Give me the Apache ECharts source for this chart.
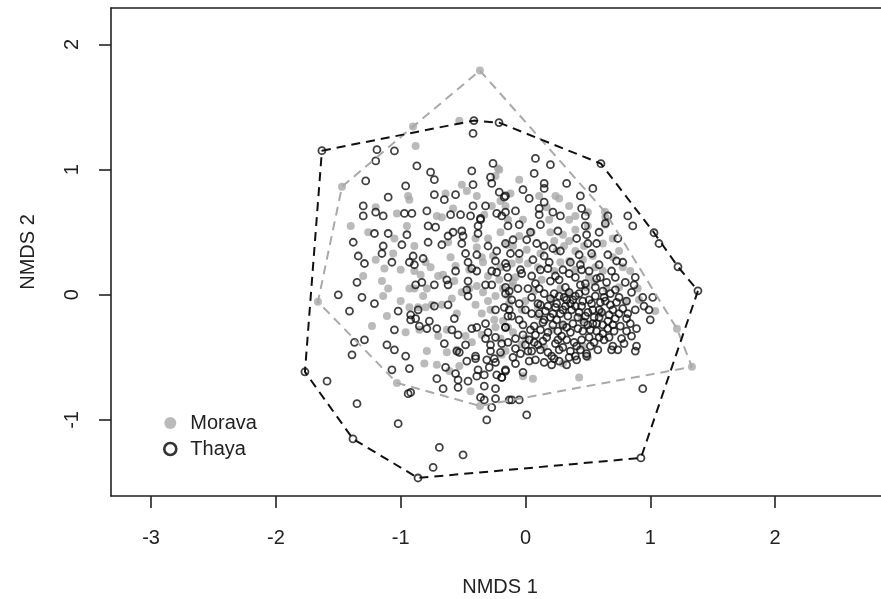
<!DOCTYPE html>
<html>
<head>
<meta charset="utf-8">
<script src="https://cdn.jsdelivr.net/npm/echarts@6/dist/echarts.min.js"></script>
<style>
  html, body { margin: 0; padding: 0; background: #fff; }
  #nmds { width: 881px; height: 599px; }
</style>
</head>
<body>
<div id="nmds"></div>
<script>
// tick positions
var xTicks = [-3, -2, -1, 0, 1, 2];
var yTicks = [-1, 0, 1, 2];

// convex hull vertices (NMDS1, NMDS2)
var moravaHull = [
  [-0.365, 1.792], [0.637, 0.664], [1.214, -0.272], [1.334, -0.576],
  [-0.365, -0.888], [-1.030, -0.704], [-1.663, -0.056], [-1.470, 0.864],
  [-0.901, 1.344]
];
var thayaHull = [
  [-1.631, 1.152], [-0.413, 1.392], [-0.212, 1.376], [0.605, 1.048],
  [1.030, 0.496], [1.222, 0.224], [1.382, 0.032], [0.925, -1.304],
  [-0.861, -1.464], [-1.382, -1.152], [-1.767, -0.616]
];

// site scores, Morava
var moravaPts = [
  [-0.53, 1.39], [-0.88, 1.19], [-0.22, 1.01], [-0.24, 0.95], [-0.51, 0.88], [-0.47, 0.83],
  [-0.39, 0.79], [-0.64, 0.81], [-0.94, 0.79], [-0.93, 0.76], [-0.58, 0.69], [-0.33, 0.64],
  [-0.27, 0.71], [-0.16, 0.71], [-1.03, 0.65], [-0.71, 0.63], [-0.20, 0.75],
  [-0.05, 0.92], [0.24, 0.79], [0.27, 0.77], [0.35, 0.71], [0.11, 0.79], [-0.12, 0.81],
  [-0.21, 1.00], [0.17, 0.70], [0.50, 0.66], [0.40, 0.63],
  [-1.26, 0.50], [-0.89, 0.39], [-1.06, 0.33], [-1.20, 0.28], [-1.13, 0.21], [-0.89, 0.19],
  [-0.80, 0.26], [-0.76, 0.22], [-0.84, 0.16], [-1.15, 0.11], [-1.10, 0.05], [-0.93, 0.05],
  [-0.89, 0.05], [-0.79, 0.05], [-0.66, 0.16], [-0.56, 0.23], [-0.57, 0.11], [-0.34, 0.26],
  [-0.26, 0.31], [-0.39, 0.38], [-0.67, 0.62], [-0.82, -0.01], [-0.75, -0.08], [-0.67, -0.08],
  [-0.59, -0.03], [-0.51, 0.02], [-0.40, -0.08], [-0.34, 0.02], [-0.24, -0.01], [-0.39, 0.07],
  [-0.21, 0.12], [-0.93, -0.10], [-0.86, -0.10], [-0.80, -0.10], [-1.11, -0.17], [-1.23, -0.25],
  [-0.96, -0.30], [-0.85, -0.28], [-0.70, -0.33], [-0.63, -0.28], [-0.48, -0.33], [-0.43, -0.38],
  [-0.35, -0.32], [-0.24, -0.26], [-0.18, -0.21], [-0.28, -0.12], [-0.13, -0.07], [-0.79, -0.45],
  [-0.55, -0.44], [-1.14, -0.01],
  [-0.14, 0.60], [-0.02, 0.60], [0.19, 0.60], [0.35, 0.60], [0.40, 0.52], [0.35, 0.43],
  [0.23, 0.43], [0.31, 0.39], [0.47, 0.39], [0.62, 0.41], [0.64, 0.56], [0.70, 0.45],
  [0.64, 0.62], [0.54, 0.31], [0.46, 0.28], [0.35, 0.27], [0.28, 0.26], [0.12, 0.33],
  [0.01, 0.36], [-0.10, 0.39], [-0.11, 0.25], [0.02, 0.25], [0.10, 0.22], [0.23, 0.19],
  [0.40, 0.20], [0.56, 0.22], [0.62, 0.19], [0.78, 0.22], [0.84, 0.19], [0.75, 0.06],
  [0.65, 0.05], [0.49, 0.06], [0.34, 0.01], [0.07, 0.03], [-0.08, 0.14], [-0.11, 0.07],
  [-0.14, -0.01], [-0.03, -0.12], [0.10, -0.17], [0.21, -0.04], [0.51, 0.14], [0.28, 0.05],
  [-0.14, -0.26], [-0.03, -0.40], [-0.16, -0.45], [1.04, -0.13], [0.91, -0.04], [0.46, -0.41],
  [0.21, -0.28],
  [-0.81, -0.55], [-0.71, -0.56], [-0.61, -0.61], [-0.53, -0.57], [-0.44, -0.77], [-0.19, -0.48],
  [-0.63, -0.46], [-0.02, -0.65], [0.06, -0.67], [0.43, -0.66],
  [-0.30, 0.45], [-0.20, 0.50], [-0.05, 0.47], [0.20, 0.50], [0.50, 0.55], [-0.45, 0.20],
  [-0.30, 0.15], [-0.20, 0.22], [-0.10, 0.10], [0.00, -0.05], [0.10, -0.10], [-0.25, -0.20],
  [-0.35, -0.15], [-0.10, -0.30], [0.00, -0.35], [0.30, -0.25], [0.45, -0.20], [0.55, 0.10],
  [0.70, 0.30], [0.75, 0.35], [0.50, -0.50], [0.30, -0.55], [-0.60, 0.30], [-0.70, 0.15],
  [-1.00, 0.20], [-1.00, -0.05], [-0.95, 0.55], [-1.20, 0.70], [-1.40, 0.55], [0.90, 0.05],
  [-0.40, 0.45], [-0.15, 0.40], [0.05, 0.50], [0.30, 0.48], [-0.45, 0.05], [-0.30, -0.05],
  [-0.18, 0.05], [0.13, 0.12], [0.25, 0.35], [0.40, 0.35], [-0.05, 0.28], [-0.35, 0.30],
  [-0.55, -0.15], [-0.20, -0.35], [0.15, -0.42], [0.60, -0.15], [0.80, -0.05], [-0.62, 0.42],
  [-1.05, 0.45], [-1.30, 0.15]
];

// site scores, Thaya
var thayaPts = [
  [-1.19, 1.16], [-1.05, 1.15], [-1.20, 1.07], [-0.42, 1.29], [-0.87, 1.03], [-0.76, 0.98],
  [-0.73, 0.92], [-0.43, 0.99], [-0.26, 1.05], [-0.28, 0.94], [-0.27, 0.89], [-0.42, 0.88],
  [-1.28, 0.91], [-0.96, 0.87], [-1.10, 0.78], [-0.73, 0.80], [-0.65, 0.76], [-0.56, 0.80],
  [-0.42, 0.71], [-0.32, 0.71], [-0.21, 0.82], [-0.17, 0.78], [-1.30, 0.71], [-1.30, 0.63],
  [-1.20, 0.66], [-1.14, 0.63], [-0.97, 0.65], [-0.91, 0.65], [-0.79, 0.67], [-0.60, 0.64],
  [-0.52, 0.64], [-0.44, 0.63], [-0.36, 0.61], [-0.23, 0.65], [-0.19, 0.63],
  [0.08, 1.09], [0.20, 1.04], [0.07, 0.97], [0.15, 0.89], [0.15, 0.85], [0.33, 0.89],
  [-0.02, 0.84], [0.03, 0.77], [-0.16, 0.79], [0.15, 0.74], [0.44, 0.79], [0.54, 0.85],
  [-0.08, 0.67], [0.11, 0.69], [0.11, 0.64], [0.22, 0.66], [0.28, 0.63], [0.45, 0.69],
  [0.48, 0.63], [0.66, 0.63], [0.82, 0.63], [-0.16, 0.66],
  [-1.21, 0.49], [-1.10, 0.49], [-0.95, 0.48], [-1.38, 0.42], [-1.14, 0.39], [-1.15, 0.33],
  [-1.34, 0.31], [-1.29, 0.25], [-1.07, 0.26], [-0.99, 0.40], [-0.78, 0.42], [-0.72, 0.54],
  [-0.67, 0.40], [-0.62, 0.47], [-0.58, 0.50], [-0.51, 0.51], [-0.50, 0.47], [-0.51, 0.41],
  [-0.48, 0.33], [-0.38, 0.49], [-0.38, 0.55], [-0.36, 0.60], [-0.30, 0.39], [-0.23, 0.35],
  [-0.39, 0.32], [-0.90, 0.31], [-0.82, 0.29], [-0.93, 0.26], [-0.89, 0.24], [-0.46, 0.26],
  [-0.43, 0.21], [-0.39, 0.19], [-0.27, 0.19], [-0.23, 0.18], [-0.24, 0.27], [-0.15, 0.22],
  [-0.56, 0.19], [-0.83, 0.10], [-0.88, 0.08], [-1.35, 0.10], [-1.50, 0.00], [-1.31, -0.02],
  [-1.21, -0.07], [-1.41, -0.13], [-1.02, -0.13], [-0.73, 0.08], [-0.62, 0.08], [-0.63, 0.12],
  [-0.46, 0.11], [-0.47, 0.04], [-0.46, -0.01], [-0.32, 0.08], [-0.27, 0.08], [-0.16, 0.06],
  [-0.13, 0.03], [-0.62, -0.08], [-0.73, -0.09], [-0.86, -0.12], [-0.92, -0.16], [-0.92, -0.20],
  [-0.88, -0.19], [-0.77, -0.21], [-0.85, -0.25], [-0.79, -0.27], [-0.71, -0.27], [-0.57, -0.19],
  [-0.59, -0.28], [-0.54, -0.32], [-0.43, -0.27], [-0.39, -0.26], [-0.32, -0.23], [-0.30, -0.30],
  [-1.05, -0.28], [-1.29, -0.36], [-1.37, -0.38], [-1.11, -0.40], [-1.05, -0.44], [-1.39, -0.48],
  [-0.96, -0.49], [-0.65, -0.39], [-0.55, -0.45], [-0.48, -0.40], [-0.40, -0.49], [-0.32, -0.35],
  [-0.28, -0.40], [-0.24, -0.34], [-0.19, -0.39], [-0.16, -0.26], [-0.14, -0.17], [-0.17, -0.10],
  [-0.24, -0.12], [-0.78, 0.55],
  [0.48, 0.55], [0.26, 0.51], [0.12, 0.56], [0.04, 0.50], [-0.05, 0.56], [-0.14, 0.55],
  [-0.10, 0.44], [0.01, 0.44], [0.09, 0.41], [0.15, 0.39], [0.22, 0.37], [0.28, 0.35],
  [0.41, 0.45], [0.49, 0.48], [0.50, 0.41], [0.57, 0.41], [0.59, 0.50], [0.64, 0.57],
  [0.74, 0.45], [0.86, 0.55], [1.07, 0.41], [0.73, 0.27], [0.78, 0.26], [0.69, 0.19],
  [0.60, 0.14], [0.88, 0.14], [0.87, 0.08], [0.80, 0.10], [0.72, 0.04], [0.85, 0.02],
  [0.94, -0.02], [1.02, -0.02], [0.81, -0.05], [0.88, -0.12], [0.95, -0.09], [0.99, -0.12],
  [1.00, -0.20], [0.81, -0.19], [0.89, -0.27], [0.81, -0.29], [0.77, -0.35], [0.70, -0.41],
  [0.89, -0.41], [0.51, -0.34], [0.59, -0.34], [0.49, -0.47], [0.41, -0.41], [0.33, -0.36],
  [0.24, -0.39], [0.17, -0.34], [0.07, -0.38], [-0.02, -0.32], [0.00, -0.40], [-0.08, -0.43],
  [-0.14, -0.38], [-0.16, -0.26], [-0.13, -0.12], [-0.16, 0.01], [-0.14, 0.14], [-0.16, 0.25],
  [-0.12, 0.33], [-0.16, 0.41], [-0.05, 0.33], [-0.04, 0.20], [-0.06, 0.05], [-0.05, -0.07],
  [-0.05, -0.20], [0.05, -0.15], [0.05, -0.02], [0.05, 0.15], [0.06, 0.28], [0.15, 0.31],
  [0.18, 0.21], [0.20, 0.11], [0.15, 0.01], [0.18, -0.09], [0.15, -0.20], [0.25, -0.20],
  [0.30, -0.12], [0.27, -0.01], [0.32, 0.06], [0.35, 0.17], [0.36, 0.26], [0.43, 0.32],
  [0.45, 0.20], [0.48, 0.09], [0.43, 0.01], [0.40, -0.09], [0.48, -0.17], [0.38, -0.23],
  [0.59, -0.12], [0.56, -0.01], [0.64, -0.05], [0.67, -0.16], [0.62, -0.24], [0.70, -0.12],
  [0.75, -0.15], [0.54, -0.23], [0.33, -0.26], [0.07, -0.25], [0.10, -0.07], [0.02, 0.05],
  [0.11, 0.05], [0.23, 0.01], [0.25, -0.07], [0.33, -0.04], [0.37, -0.12], [0.45, -0.09],
  [0.51, -0.04], [0.54, -0.12], [0.59, -0.18], [0.66, -0.21], [0.72, -0.19], [0.43, -0.14],
  [0.22, -0.15], [0.11, -0.15], [-0.11, -0.17], [0.00, -0.12], [-0.11, -0.04], [-0.03, 0.17],
  [0.12, 0.20], [0.27, 0.12], [0.40, 0.14], [0.51, 0.19], [0.59, 0.24], [0.66, 0.32],
  [0.65, 0.10], [0.72, 0.14], [0.56, 0.06], [0.12, -0.44], [0.27, -0.44], [0.40, -0.49],
  [0.21, -0.49], [0.05, -0.45],
  [0.12, -0.28], [0.18, -0.30], [0.26, -0.29], [0.30, -0.24], [0.36, -0.30], [0.42, -0.27],
  [0.47, -0.22], [0.52, -0.28], [0.57, -0.29], [0.62, -0.31], [0.66, -0.27], [0.70, -0.24],
  [0.46, -0.05], [0.40, -0.01], [0.36, -0.07], [0.31, -0.02], [0.60, -0.06], [0.68, -0.08],
  [0.75, -0.02], [0.55, -0.18], [0.50, -0.14], [0.34, -0.17], [0.29, -0.33], [0.22, -0.24],
  [0.08, -0.32], [0.04, -0.28], [-0.02, -0.24], [0.02, -0.45], [0.10, -0.40], [0.18, -0.46],
  [0.30, -0.42], [0.36, -0.45], [0.45, -0.36], [0.55, -0.38], [0.63, -0.36], [0.12, -0.08],
  [0.20, -0.03], [0.08, 0.09], [0.24, 0.15], [0.44, 0.24], [0.53, 0.33], [-0.08, -0.35],
  [-0.10, -0.50], [-0.20, -0.46], [-0.28, -0.45], [0.08, -0.52], [0.23, -0.51], [0.35, -0.50],
  [0.14, -0.22], [0.20, -0.18], [0.28, -0.15], [0.32, -0.09], [0.38, -0.04], [0.42, -0.18],
  [0.46, -0.29], [0.50, -0.24], [0.53, -0.07], [0.57, -0.23], [0.61, -0.14], [0.63, -0.02],
  [0.67, -0.34], [0.71, -0.29], [0.73, -0.06], [0.76, -0.25], [0.78, -0.11], [0.82, -0.15],
  [0.84, -0.23], [0.85, -0.33], [0.79, -0.39], [0.74, -0.44], [0.58, -0.44], [0.52, -0.41],
  [0.44, -0.44], [0.39, -0.38], [0.26, -0.36], [0.14, -0.37], [0.03, -0.36], [-0.04, -0.47],
  [0.16, -0.13], [0.24, -0.10], [0.35, 0.02], [0.48, 0.03], [0.62, 0.03], [0.68, 0.01],
  [0.57, 0.13], [0.44, 0.08], [0.30, 0.20], [0.19, 0.26],
  [-1.59, -0.69], [-1.07, -0.60], [-0.93, -0.59], [-0.94, -0.79], [-0.92, -0.78], [-1.35, -0.87],
  [-1.02, -1.03], [-0.69, -1.22], [-0.50, -1.28], [-0.74, -1.38], [-0.64, -0.58], [-0.71, -0.67],
  [-0.66, -0.75], [-0.54, -0.68], [-0.54, -0.74], [-0.46, -0.69], [-0.56, -0.63], [-0.40, -0.51],
  [-0.38, -0.60], [-0.39, -0.65], [-0.33, -0.64], [-0.33, -0.73], [-0.29, -0.58], [-0.24, -0.54],
  [-0.23, -0.64], [-0.19, -0.66], [-0.16, -0.61], [-0.24, -0.75], [-0.36, -0.82], [-0.33, -0.84],
  [-0.24, -0.83], [-0.27, -0.90], [-0.31, -1.00], [-0.13, -0.84], [-0.25, -0.51], [-0.31, -0.52],
  [-0.47, -0.53], [-0.53, -0.46],
  [-0.08, -0.55], [-0.16, -0.60], [-0.19, -0.66], [-0.02, -0.62], [-0.11, -0.84], [-0.05, -0.84],
  [0.01, -0.96], [0.03, -0.53], [0.15, -0.54], [0.21, -0.56], [0.27, -0.53], [0.33, -0.56],
  [0.41, -0.52], [0.49, -0.49], [0.69, -0.44], [0.88, -0.45], [0.94, -0.75]
];

var chart_nmds = echarts.init(document.getElementById('nmds'), null, { renderer: 'canvas' });

var axisText = { fontFamily: 'Liberation Sans', fontSize: 20, color: '#222' };
var frameLine = { show: true, onZero: false, lineStyle: { color: '#222', width: 1.6 } };

var option_nmds = {
  animation: false,
  textStyle: { fontFamily: 'Liberation Sans' },
  grid: {
    left: 111, top: 8, width: 778, bottom: 103,
    outerBoundsMode: 'none',
    containLabel: false,
    show: false
  },
  legend: {
    orient: 'vertical',
    left: 163,
    top: 413,
    padding: 0,
    itemWidth: 24,
    itemHeight: 12,
    itemGap: 6,
    selectedMode: false,
    textStyle: { fontFamily: 'Liberation Sans', fontSize: 20, color: '#222', padding: [0, 0, 0, 3] },
    data: [
      { name: 'Morava', icon: 'circle', itemStyle: { color: '#a9a9a9', borderWidth: 0 } },
      { name: 'Thaya', icon: 'circle', itemStyle: { color: '#fff', borderColor: '#000', borderWidth: 2.6 } }
    ]
  },
  xAxis: [
    {
      type: 'value',
      position: 'bottom',
      min: -3.321,
      max: 2.913,
      name: 'NMDS 1',
      nameLocation: 'middle',
      nameGap: 81,
      nameTextStyle: axisText,
      axisLine: frameLine,
      splitLine: { show: false },
      axisTick: { show: true, length: 12, customValues: xTicks, lineStyle: { color: '#222', width: 1.6 } },
      axisLabel: { customValues: xTicks, margin: 32, fontFamily: 'Liberation Sans', fontSize: 20, color: '#222' }
    },
    {
      // top edge of the plot frame
      type: 'value',
      position: 'top',
      min: -3.321,
      max: 2.913,
      axisLine: frameLine,
      splitLine: { show: false },
      axisTick: { show: false },
      axisLabel: { show: false }
    }
  ],
  yAxis: {
    type: 'value',
    position: 'left',
    min: -1.608,
    max: 2.292,
    name: 'NMDS 2',
    nameLocation: 'middle',
    nameGap: 73,
    nameTextStyle: axisText,
    axisLine: frameLine,
    splitLine: { show: false },
    axisTick: { show: true, length: 12, customValues: yTicks, lineStyle: { color: '#222', width: 1.6 } },
    axisLabel: { customValues: yTicks, rotate: 90, margin: 29, fontFamily: 'Liberation Sans', fontSize: 20, color: '#222' }
  },
  series: [
    {
      name: 'Morava',
      type: 'scatter',
      symbol: 'circle',
      symbolSize: 8,
      silent: true,
      itemStyle: { color: '#a9a9a9' },
      data: moravaPts.concat(moravaHull),
      z: 2
    },
    {
      name: 'Thaya',
      type: 'scatter',
      symbol: 'circle',
      symbolSize: 7,
      silent: true,
      itemStyle: { color: 'rgba(255,255,255,0)', borderColor: '#111', borderWidth: 1.8 },
      data: thayaPts.concat(thayaHull),
      z: 3
    },
    {
      name: 'Morava hull',
      type: 'line',
      symbol: 'none',
      silent: true,
      lineStyle: { color: '#a9a9a9', width: 2, type: [9, 6] },
      data: moravaHull.concat([moravaHull[0]]),
      z: 4
    },
    {
      name: 'Thaya hull',
      type: 'line',
      symbol: 'none',
      silent: true,
      lineStyle: { color: '#111', width: 2, type: [9, 6] },
      data: thayaHull.concat([thayaHull[0]]),
      z: 4
    }
  ]
};

chart_nmds.setOption(option_nmds);

window.addEventListener('resize', chart_nmds.resize);
</script>
</body>
</html>
